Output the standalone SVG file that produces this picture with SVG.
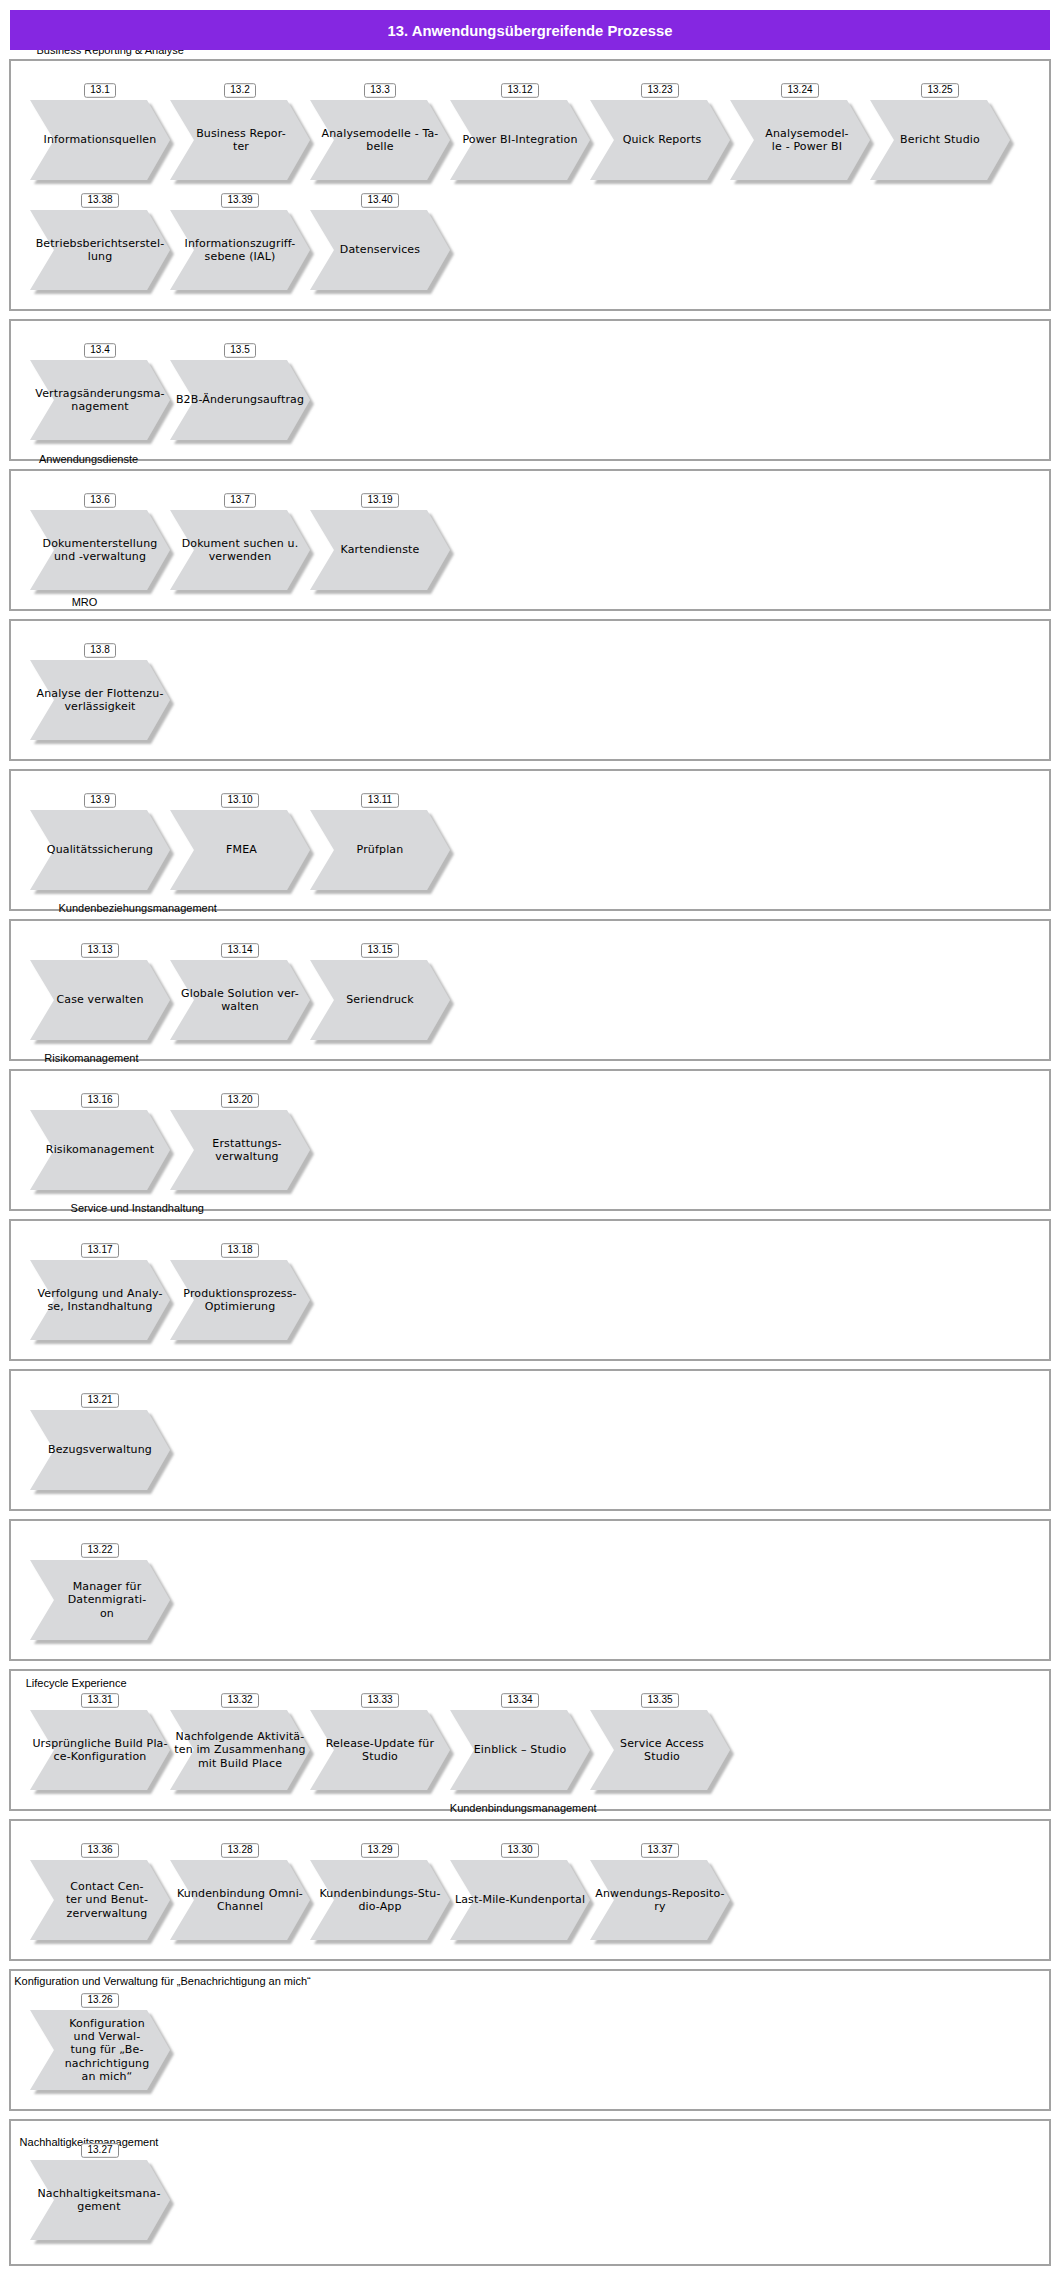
<svg xmlns="http://www.w3.org/2000/svg" xmlns:xlink="http://www.w3.org/1999/xlink" width="1060" height="2275" viewBox="0 0 1060 2275">
<style>
.grp{fill:#ffffff;stroke:#a2a2a2;stroke-width:2}
.gl{font-family:"Liberation Sans",Arial,sans-serif;font-size:11px;fill:#000}
.ch{fill:#d8d9db}
.t{font-family:"DejaVu Sans",Verdana,sans-serif;font-size:11px;letter-spacing:0.15px;fill:#000;text-anchor:middle}
.lb{fill:#ffffff;stroke:#8c8c8c;stroke-width:1}
.lt{font-family:"Liberation Sans",Arial,sans-serif;font-size:10px;fill:#000;text-anchor:middle}
.title{font-family:"Liberation Sans",Arial,sans-serif;font-size:14.8px;font-weight:bold;fill:#ffffff;text-anchor:middle}
</style>
<defs>
<filter id="sh" x="-10%" y="-10%" width="130%" height="130%">
<feDropShadow dx="4" dy="4" stdDeviation="1.2" flood-color="#8a8a8a" flood-opacity="0.6"/>
</filter>
<polygon id="chev" points="0,0 117,0 140,40 117,80 0,80 24,40"/>
</defs>
<rect width="1060" height="2275" fill="#ffffff"/>

<g id="groups">
<rect id="g1" class="grp" x="10" y="60" width="1040" height="250"/>
<rect id="g2" class="grp" x="10" y="320" width="1040" height="140"/>
<rect id="g3" class="grp" x="10" y="470" width="1040" height="140"/>
<rect id="g4" class="grp" x="10" y="620" width="1040" height="140"/>
<rect id="g5" class="grp" x="10" y="770" width="1040" height="140"/>
<rect id="g6" class="grp" x="10" y="920" width="1040" height="140"/>
<rect id="g7" class="grp" x="10" y="1070" width="1040" height="140"/>
<rect id="g8" class="grp" x="10" y="1220" width="1040" height="140"/>
<rect id="g9" class="grp" x="10" y="1370" width="1040" height="140"/>
<rect id="g10" class="grp" x="10" y="1520" width="1040" height="140"/>
<rect id="g11" class="grp" x="10" y="1670" width="1040" height="140"/>
<rect id="g12" class="grp" x="10" y="1820" width="1040" height="140"/>
<rect id="g13" class="grp" x="10" y="1970" width="1040" height="140"/>
<rect id="g14" class="grp" x="10" y="2120" width="1040" height="145"/>
</g>

<g id="group-labels">
<text class="gl" x="36.5" y="53.5">Business Reporting &amp; Analyse</text>
<text class="gl" x="39" y="463">Anwendungsdienste</text>
<text class="gl" x="71.7" y="606">MRO</text>
<text class="gl" x="58.5" y="912.3">Kundenbeziehungsmanagement</text>
<text class="gl" x="44.3" y="1062.3">Risikomanagement</text>
<text class="gl" x="70.6" y="1212.3">Service und Instandhaltung</text>
<text class="gl" x="25.7" y="1687">Lifecycle Experience</text>
<text class="gl" x="449.8" y="1812.3">Kundenbindungsmanagement</text>
<text class="gl" x="14.2" y="1984.5">Konfiguration und Verwaltung für „Benachrichtigung an mich“</text>
<text class="gl" x="19.6" y="2145.5">Nachhaltigkeitsmanagement</text>
</g>

<g id="connectors"/>

<g id="nodes">
<!-- Group 1 row 1 -->
<g id="n13-1"><use href="#chev" x="30" y="100" class="ch" filter="url(#sh)"/><text class="t" x="100" y="143.3">Informationsquellen</text><rect class="lb" x="84.5" y="83.7" width="31" height="13.6" rx="2"/><text class="lt" x="100" y="93.3">13.1</text></g>
<g id="n13-2"><use href="#chev" x="170" y="100" class="ch" filter="url(#sh)"/><text class="t" y="136.65"><tspan x="241">Business Repor-</tspan><tspan x="241" dy="13.3">ter</tspan></text><rect class="lb" x="224.5" y="83.7" width="31" height="13.6" rx="2"/><text class="lt" x="240" y="93.3">13.2</text></g>
<g id="n13-3"><use href="#chev" x="310" y="100" class="ch" filter="url(#sh)"/><text class="t" y="136.65"><tspan x="380">Analysemodelle - Ta-</tspan><tspan x="380" dy="13.3">belle</tspan></text><rect class="lb" x="364.5" y="83.7" width="31" height="13.6" rx="2"/><text class="lt" x="380" y="93.3">13.3</text></g>
<g id="n13-12"><use href="#chev" x="450" y="100" class="ch" filter="url(#sh)"/><text class="t" x="520" y="143.3">Power BI-Integration</text><rect class="lb" x="501.5" y="83.7" width="37" height="13.6" rx="2"/><text class="lt" x="520" y="93.3">13.12</text></g>
<g id="n13-23"><use href="#chev" x="590" y="100" class="ch" filter="url(#sh)"/><text class="t" x="662" y="143.3">Quick Reports</text><rect class="lb" x="641.5" y="83.7" width="37" height="13.6" rx="2"/><text class="lt" x="660" y="93.3">13.23</text></g>
<g id="n13-24"><use href="#chev" x="730" y="100" class="ch" filter="url(#sh)"/><text class="t" y="136.65"><tspan x="807">Analysemodel-</tspan><tspan x="807" dy="13.3">le - Power BI</tspan></text><rect class="lb" x="781.5" y="83.7" width="37" height="13.6" rx="2"/><text class="lt" x="800" y="93.3">13.24</text></g>
<g id="n13-25"><use href="#chev" x="870" y="100" class="ch" filter="url(#sh)"/><text class="t" x="940" y="143.3">Bericht Studio</text><rect class="lb" x="921.5" y="83.7" width="37" height="13.6" rx="2"/><text class="lt" x="940" y="93.3">13.25</text></g>
<!-- Group 1 row 2 -->
<g id="n13-38"><use href="#chev" x="30" y="210" class="ch" filter="url(#sh)"/><text class="t" y="246.65"><tspan x="100">Betriebsberichtserstel-</tspan><tspan x="100" dy="13.3">lung</tspan></text><rect class="lb" x="81.5" y="193.7" width="37" height="13.6" rx="2"/><text class="lt" x="100" y="203.3">13.38</text></g>
<g id="n13-39"><use href="#chev" x="170" y="210" class="ch" filter="url(#sh)"/><text class="t" y="246.65"><tspan x="240">Informationszugriff-</tspan><tspan x="240" dy="13.3">sebene (IAL)</tspan></text><rect class="lb" x="221.5" y="193.7" width="37" height="13.6" rx="2"/><text class="lt" x="240" y="203.3">13.39</text></g>
<g id="n13-40"><use href="#chev" x="310" y="210" class="ch" filter="url(#sh)"/><text class="t" x="380" y="253.3">Datenservices</text><rect class="lb" x="361.5" y="193.7" width="37" height="13.6" rx="2"/><text class="lt" x="380" y="203.3">13.40</text></g>
<!-- Group 2 -->
<g id="n13-4"><use href="#chev" x="30" y="360" class="ch" filter="url(#sh)"/><text class="t" y="396.65"><tspan x="100">Vertragsänderungsma-</tspan><tspan x="100" dy="13.3">nagement</tspan></text><rect class="lb" x="84.5" y="343.7" width="31" height="13.6" rx="2"/><text class="lt" x="100" y="353.3">13.4</text></g>
<g id="n13-5"><use href="#chev" x="170" y="360" class="ch" filter="url(#sh)"/><text class="t" x="240" y="403.3">B2B-Änderungsauftrag</text><rect class="lb" x="224.5" y="343.7" width="31" height="13.6" rx="2"/><text class="lt" x="240" y="353.3">13.5</text></g>
<!-- Group 3 -->
<g id="n13-6"><use href="#chev" x="30" y="510" class="ch" filter="url(#sh)"/><text class="t" y="546.65"><tspan x="100">Dokumenterstellung</tspan><tspan x="100" dy="13.3">und -verwaltung</tspan></text><rect class="lb" x="84.5" y="493.7" width="31" height="13.6" rx="2"/><text class="lt" x="100" y="503.3">13.6</text></g>
<g id="n13-7"><use href="#chev" x="170" y="510" class="ch" filter="url(#sh)"/><text class="t" y="546.65"><tspan x="240">Dokument suchen u.</tspan><tspan x="240" dy="13.3">verwenden</tspan></text><rect class="lb" x="224.5" y="493.7" width="31" height="13.6" rx="2"/><text class="lt" x="240" y="503.3">13.7</text></g>
<g id="n13-19"><use href="#chev" x="310" y="510" class="ch" filter="url(#sh)"/><text class="t" x="380" y="553.3">Kartendienste</text><rect class="lb" x="361.5" y="493.7" width="37" height="13.6" rx="2"/><text class="lt" x="380" y="503.3">13.19</text></g>
<!-- Group 4 -->
<g id="n13-8"><use href="#chev" x="30" y="660" class="ch" filter="url(#sh)"/><text class="t" y="696.65"><tspan x="100">Analyse der Flottenzu-</tspan><tspan x="100" dy="13.3">verlässigkeit</tspan></text><rect class="lb" x="84.5" y="643.7" width="31" height="13.6" rx="2"/><text class="lt" x="100" y="653.3">13.8</text></g>
<!-- Group 5 -->
<g id="n13-9"><use href="#chev" x="30" y="810" class="ch" filter="url(#sh)"/><text class="t" x="100" y="853.3">Qualitätssicherung</text><rect class="lb" x="84.5" y="793.7" width="31" height="13.6" rx="2"/><text class="lt" x="100" y="803.3">13.9</text></g>
<g id="n13-10"><use href="#chev" x="170" y="810" class="ch" filter="url(#sh)"/><text class="t" x="241.5" y="853.3">FMEA</text><rect class="lb" x="221.5" y="793.7" width="37" height="13.6" rx="2"/><text class="lt" x="240" y="803.3">13.10</text></g>
<g id="n13-11"><use href="#chev" x="310" y="810" class="ch" filter="url(#sh)"/><text class="t" x="380" y="853.3">Prüfplan</text><rect class="lb" x="361.5" y="793.7" width="37" height="13.6" rx="2"/><text class="lt" x="380" y="803.3">13.11</text></g>
<!-- Group 6 -->
<g id="n13-13"><use href="#chev" x="30" y="960" class="ch" filter="url(#sh)"/><text class="t" x="100" y="1003.3">Case verwalten</text><rect class="lb" x="81.5" y="943.7" width="37" height="13.6" rx="2"/><text class="lt" x="100" y="953.3">13.13</text></g>
<g id="n13-14"><use href="#chev" x="170" y="960" class="ch" filter="url(#sh)"/><text class="t" y="996.65"><tspan x="240">Globale Solution ver-</tspan><tspan x="240" dy="13.3">walten</tspan></text><rect class="lb" x="221.5" y="943.7" width="37" height="13.6" rx="2"/><text class="lt" x="240" y="953.3">13.14</text></g>
<g id="n13-15"><use href="#chev" x="310" y="960" class="ch" filter="url(#sh)"/><text class="t" x="380" y="1003.3">Seriendruck</text><rect class="lb" x="361.5" y="943.7" width="37" height="13.6" rx="2"/><text class="lt" x="380" y="953.3">13.15</text></g>
<!-- Group 7 -->
<g id="n13-16"><use href="#chev" x="30" y="1110" class="ch" filter="url(#sh)"/><text class="t" x="100" y="1153.3">Risikomanagement</text><rect class="lb" x="81.5" y="1093.7" width="37" height="13.6" rx="2"/><text class="lt" x="100" y="1103.3">13.16</text></g>
<g id="n13-20"><use href="#chev" x="170" y="1110" class="ch" filter="url(#sh)"/><text class="t" y="1146.65"><tspan x="247">Erstattungs-</tspan><tspan x="247" dy="13.3">verwaltung</tspan></text><rect class="lb" x="221.5" y="1093.7" width="37" height="13.6" rx="2"/><text class="lt" x="240" y="1103.3">13.20</text></g>
<!-- Group 8 -->
<g id="n13-17"><use href="#chev" x="30" y="1260" class="ch" filter="url(#sh)"/><text class="t" y="1296.65"><tspan x="100">Verfolgung und Analy-</tspan><tspan x="100" dy="13.3">se, Instandhaltung</tspan></text><rect class="lb" x="81.5" y="1243.7" width="37" height="13.6" rx="2"/><text class="lt" x="100" y="1253.3">13.17</text></g>
<g id="n13-18"><use href="#chev" x="170" y="1260" class="ch" filter="url(#sh)"/><text class="t" y="1296.65"><tspan x="240">Produktionsprozess-</tspan><tspan x="240" dy="13.3">Optimierung</tspan></text><rect class="lb" x="221.5" y="1243.7" width="37" height="13.6" rx="2"/><text class="lt" x="240" y="1253.3">13.18</text></g>
<!-- Group 9 -->
<g id="n13-21"><use href="#chev" x="30" y="1410" class="ch" filter="url(#sh)"/><text class="t" x="100" y="1453.3">Bezugsverwaltung</text><rect class="lb" x="81.5" y="1393.7" width="37" height="13.6" rx="2"/><text class="lt" x="100" y="1403.3">13.21</text></g>
<!-- Group 10 -->
<g id="n13-22"><use href="#chev" x="30" y="1560" class="ch" filter="url(#sh)"/><text class="t" y="1590"><tspan x="107">Manager für</tspan><tspan x="107" dy="13.3">Datenmigrati-</tspan><tspan x="107" dy="13.3">on</tspan></text><rect class="lb" x="81.5" y="1543.7" width="37" height="13.6" rx="2"/><text class="lt" x="100" y="1553.3">13.22</text></g>
<!-- Group 11 -->
<g id="n13-31"><use href="#chev" x="30" y="1710" class="ch" filter="url(#sh)"/><text class="t" y="1746.65"><tspan x="100">Ursprüngliche Build Pla-</tspan><tspan x="100" dy="13.3">ce-Konfiguration</tspan></text><rect class="lb" x="81.5" y="1693.7" width="37" height="13.6" rx="2"/><text class="lt" x="100" y="1703.3">13.31</text></g>
<g id="n13-32"><use href="#chev" x="170" y="1710" class="ch" filter="url(#sh)"/><text class="t" y="1740"><tspan x="240">Nachfolgende Aktivitä-</tspan><tspan x="240" dy="13.3">ten im Zusammenhang</tspan><tspan x="240" dy="13.3">mit Build Place</tspan></text><rect class="lb" x="221.5" y="1693.7" width="37" height="13.6" rx="2"/><text class="lt" x="240" y="1703.3">13.32</text></g>
<g id="n13-33"><use href="#chev" x="310" y="1710" class="ch" filter="url(#sh)"/><text class="t" y="1746.65"><tspan x="380">Release-Update für</tspan><tspan x="380" dy="13.3">Studio</tspan></text><rect class="lb" x="361.5" y="1693.7" width="37" height="13.6" rx="2"/><text class="lt" x="380" y="1703.3">13.33</text></g>
<g id="n13-34"><use href="#chev" x="450" y="1710" class="ch" filter="url(#sh)"/><text class="t" x="520" y="1753.3">Einblick – Studio</text><rect class="lb" x="501.5" y="1693.7" width="37" height="13.6" rx="2"/><text class="lt" x="520" y="1703.3">13.34</text></g>
<g id="n13-35"><use href="#chev" x="590" y="1710" class="ch" filter="url(#sh)"/><text class="t" y="1746.65"><tspan x="662">Service Access</tspan><tspan x="662" dy="13.3">Studio</tspan></text><rect class="lb" x="641.5" y="1693.7" width="37" height="13.6" rx="2"/><text class="lt" x="660" y="1703.3">13.35</text></g>
<!-- Group 12 -->
<g id="n13-36"><use href="#chev" x="30" y="1860" class="ch" filter="url(#sh)"/><text class="t" y="1890"><tspan x="107">Contact Cen-</tspan><tspan x="107" dy="13.3">ter und Benut-</tspan><tspan x="107" dy="13.3">zerverwaltung</tspan></text><rect class="lb" x="81.5" y="1843.7" width="37" height="13.6" rx="2"/><text class="lt" x="100" y="1853.3">13.36</text></g>
<g id="n13-28"><use href="#chev" x="170" y="1860" class="ch" filter="url(#sh)"/><text class="t" y="1896.65"><tspan x="240">Kundenbindung Omni-</tspan><tspan x="240" dy="13.3">Channel</tspan></text><rect class="lb" x="221.5" y="1843.7" width="37" height="13.6" rx="2"/><text class="lt" x="240" y="1853.3">13.28</text></g>
<g id="n13-29"><use href="#chev" x="310" y="1860" class="ch" filter="url(#sh)"/><text class="t" y="1896.65"><tspan x="380">Kundenbindungs-Stu-</tspan><tspan x="380" dy="13.3">dio-App</tspan></text><rect class="lb" x="361.5" y="1843.7" width="37" height="13.6" rx="2"/><text class="lt" x="380" y="1853.3">13.29</text></g>
<g id="n13-30"><use href="#chev" x="450" y="1860" class="ch" filter="url(#sh)"/><text class="t" x="520" y="1903.3">Last-Mile-Kundenportal</text><rect class="lb" x="501.5" y="1843.7" width="37" height="13.6" rx="2"/><text class="lt" x="520" y="1853.3">13.30</text></g>
<g id="n13-37"><use href="#chev" x="590" y="1860" class="ch" filter="url(#sh)"/><text class="t" y="1896.65"><tspan x="660">Anwendungs-Reposito-</tspan><tspan x="660" dy="13.3">ry</tspan></text><rect class="lb" x="641.5" y="1843.7" width="37" height="13.6" rx="2"/><text class="lt" x="660" y="1853.3">13.37</text></g>
<!-- Group 13 -->
<g id="n13-26"><use href="#chev" x="30" y="2010" class="ch" filter="url(#sh)"/><text class="t" y="2026.7"><tspan x="107">Konfiguration</tspan><tspan x="107" dy="13.3">und Verwal-</tspan><tspan x="107" dy="13.3">tung für „Be-</tspan><tspan x="107" dy="13.3">nachrichtigung</tspan><tspan x="107" dy="13.3">an mich“</tspan></text><rect class="lb" x="81.5" y="1993.7" width="37" height="13.6" rx="2"/><text class="lt" x="100" y="2003.3">13.26</text></g>
<!-- Group 14 -->
<g id="n13-27"><use href="#chev" x="30" y="2160" class="ch" filter="url(#sh)"/><text class="t" y="2196.65"><tspan x="99">Nachhaltigkeitsmana-</tspan><tspan x="99" dy="13.3">gement</tspan></text><rect class="lb" x="81.5" y="2143.7" width="37" height="13.6" rx="2"/><text class="lt" x="100" y="2153.3">13.27</text></g>
</g>

<g id="header">
<rect x="10" y="10" width="1040" height="40" fill="#8527e1"/>
<text class="title" x="530" y="35.5">13. Anwendungsübergreifende Prozesse</text>
</g>
</svg>
